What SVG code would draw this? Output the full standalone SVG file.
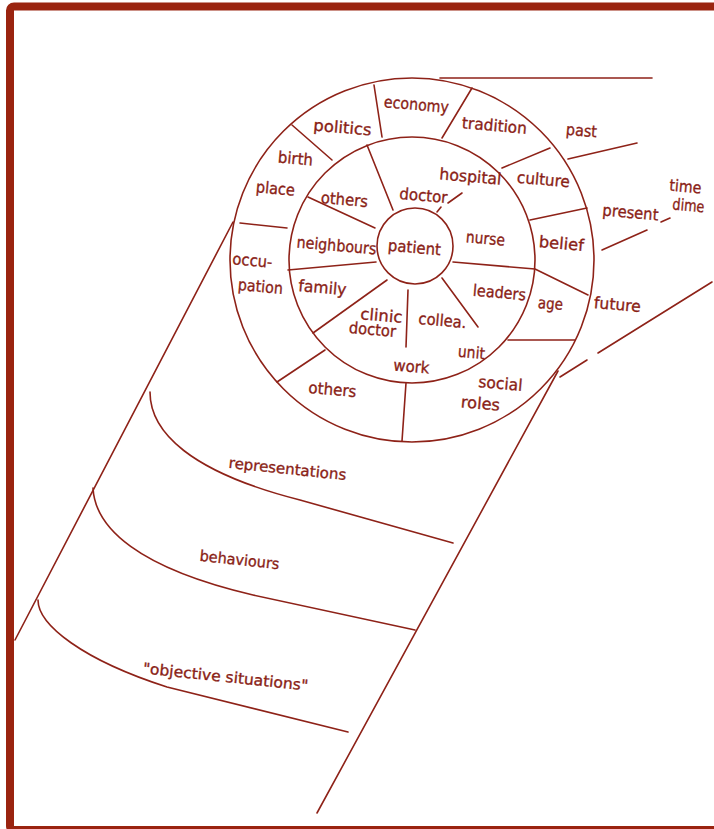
<svg xmlns="http://www.w3.org/2000/svg" width="714" height="829" viewBox="0 0 714 829">
<style>
.ln{fill:none;stroke:#8e2218;stroke-width:1.6;stroke-linecap:round;stroke-linejoin:round}
.t{font-family:"DejaVu Sans","Liberation Sans",sans-serif;font-size:16px;fill:#8a1e16;stroke:#8a1e16;stroke-width:0.35;text-anchor:middle}
.s{font-size:15px}
</style>
<rect x="0" y="0" width="714" height="829" fill="#ffffff"/>
<rect id="frame" x="10" y="6.5" width="760" height="823.5" rx="4" fill="none" stroke="#9a2410" stroke-width="8"/>

<g id="rings">
<circle class="ln" cx="412" cy="260" r="182"/>
<circle class="ln" cx="412" cy="260" r="123"/>
<circle class="ln" cx="415" cy="246" r="38"/>
</g>

<g id="connectors">
<path class="ln" d="M374,85 L382,137"/>
<path class="ln" d="M472,88 L442,138"/>
<path class="ln" d="M502,168 L550,148"/>
<path class="ln" d="M530,220 L587,208"/>
<path class="ln" d="M453,262 L535,269 L588,295"/>
<path class="ln" d="M508,340 L575,340"/>
<path class="ln" d="M406,383 L402,441"/>
<path class="ln" d="M277,382 L325,350"/>
<path class="ln" d="M240,223 L287,228"/>
<path class="ln" d="M292,125 L332,160"/>
<path class="ln" d="M367,145 L393,210"/>
<path class="ln" d="M308,197 L375,228"/>
<path class="ln" d="M288,270 L376,262"/>
<path class="ln" d="M313,333 L387,280"/>
<path class="ln" d="M408,290 L406,347"/>
<path class="ln" d="M442,278 L478,327"/>
<path class="ln" d="M437,212 L441,207"/>
<path class="ln" d="M448,203 L462,193"/>
<path class="ln" d="M440,78 L652,78"/>
<path class="ln" d="M568,159 L637,143"/>
<path class="ln" d="M602,250 L647,230"/>
<path class="ln" d="M661,222 L670,218"/>
<path class="ln" d="M560,377 L587,360"/>
<path class="ln" d="M598,353 L712,282"/>
<path class="ln" d="M233,222 L15,640"/>
<path class="ln" d="M558,371 L317,813"/>
<path class="ln" d="M150,392 C150,432 190,472 300,500 L453,543"/>
<path class="ln" d="M93,488 C95,528 138,568 253,595 L415,630"/>
<path class="ln" d="M38,600 C38,625 83,660 167,687 L348,732"/>
</g>

<g id="lbl-economy"><text class="t" x="416" y="110" textLength="65" lengthAdjust="spacingAndGlyphs" transform="rotate(5 416 110)">economy</text></g>
<g id="lbl-politics"><text class="t" x="342" y="133" textLength="58" lengthAdjust="spacingAndGlyphs" transform="rotate(5 342 133)">politics</text></g>
<g id="lbl-birth"><text class="t" x="295" y="164" textLength="35" lengthAdjust="spacingAndGlyphs" transform="rotate(5 295 164)">birth</text></g>
<g id="lbl-place"><text class="t" x="275" y="194" textLength="39" lengthAdjust="spacingAndGlyphs" transform="rotate(5 275 194)">place</text></g>
<g id="lbl-others1"><text class="t" x="344" y="205" textLength="47" lengthAdjust="spacingAndGlyphs" transform="rotate(5 344 205)">others</text></g>
<g id="lbl-doctor1"><text class="t" x="423" y="201" textLength="48" lengthAdjust="spacingAndGlyphs" transform="rotate(5 423 201)">doctor</text></g>
<g id="lbl-hospital"><text class="t" x="470" y="182" textLength="62" lengthAdjust="spacingAndGlyphs" transform="rotate(5 470 182)">hospital</text></g>
<g id="lbl-tradition"><text class="t" x="494" y="131" textLength="65" lengthAdjust="spacingAndGlyphs" transform="rotate(5 494 131)">tradition</text></g>
<g id="lbl-past"><text class="t" x="581" y="136" textLength="31" lengthAdjust="spacingAndGlyphs" transform="rotate(5 581 136)">past</text></g>
<g id="lbl-culture"><text class="t" x="543" y="185" textLength="53" lengthAdjust="spacingAndGlyphs" transform="rotate(5 543 185)">culture</text></g>
<g id="lbl-present"><text class="t" x="630" y="218" textLength="56" lengthAdjust="spacingAndGlyphs" transform="rotate(5 630 218)">present</text></g>
<g id="lbl-belief"><text class="t" x="561" y="249" textLength="45" lengthAdjust="spacingAndGlyphs" transform="rotate(5 561 249)">belief</text></g>
<g id="lbl-nurse"><text class="t" x="485" y="244" textLength="39" lengthAdjust="spacingAndGlyphs" transform="rotate(5 485 244)">nurse</text></g>
<g id="lbl-patient"><text class="t" x="414" y="253" textLength="53" lengthAdjust="spacingAndGlyphs" transform="rotate(5 414 253)">patient</text></g>
<g id="lbl-neighbours"><text class="t" x="336" y="251" textLength="80" lengthAdjust="spacingAndGlyphs" transform="rotate(5 336 251)">neighbours</text></g>
<g id="lbl-occupation"><text class="t" x="252" y="266" textLength="40" lengthAdjust="spacingAndGlyphs" transform="rotate(5 252 266)">occu-</text><text class="t" x="260" y="292" textLength="45" lengthAdjust="spacingAndGlyphs" transform="rotate(5 260 292)">pation</text></g>
<g id="lbl-family"><text class="t" x="322" y="293" textLength="48" lengthAdjust="spacingAndGlyphs" transform="rotate(5 322 293)">family</text></g>
<g id="lbl-clinicdoctor"><text class="t" x="381" y="321" textLength="42" lengthAdjust="spacingAndGlyphs" transform="rotate(5 381 321)">clinic</text><text class="t" x="372" y="335" textLength="47" lengthAdjust="spacingAndGlyphs" transform="rotate(5 372 335)">doctor</text></g>
<g id="lbl-collea"><text class="t" x="442" y="326" textLength="48" lengthAdjust="spacingAndGlyphs" transform="rotate(5 442 326)">collea.</text></g>
<g id="lbl-leaders"><text class="t" x="499" y="298" textLength="53" lengthAdjust="spacingAndGlyphs" transform="rotate(5 499 298)">leaders</text></g>
<g id="lbl-age"><text class="t" x="550" y="309" textLength="25" lengthAdjust="spacingAndGlyphs" transform="rotate(5 550 309)">age</text></g>
<g id="lbl-future"><text class="t" x="617" y="310" textLength="47" lengthAdjust="spacingAndGlyphs" transform="rotate(5 617 310)">future</text></g>
<g id="lbl-unit"><text class="t" x="471" y="358" textLength="27" lengthAdjust="spacingAndGlyphs" transform="rotate(5 471 358)">unit</text></g>
<g id="lbl-work"><text class="t" x="411" y="372" textLength="36" lengthAdjust="spacingAndGlyphs" transform="rotate(5 411 372)">work</text></g>
<g id="lbl-others2"><text class="t" x="332" y="395" textLength="48" lengthAdjust="spacingAndGlyphs" transform="rotate(5 332 395)">others</text></g>
<g id="lbl-socialroles"><text class="t" x="500" y="389" textLength="44" lengthAdjust="spacingAndGlyphs" transform="rotate(5 500 389)">social</text><text class="t" x="480" y="409" textLength="39" lengthAdjust="spacingAndGlyphs" transform="rotate(5 480 409)">roles</text></g>
<g id="lbl-time"><text class="t" x="685" y="192" textLength="32" lengthAdjust="spacingAndGlyphs" transform="rotate(5 685 192)">time</text><text class="t" x="688" y="211" textLength="32" lengthAdjust="spacingAndGlyphs" transform="rotate(5 688 211)">dime</text></g>
<g id="lbl-representations"><text class="t s" x="287" y="474" textLength="118" lengthAdjust="spacingAndGlyphs" transform="rotate(6 287 474)">representations</text></g>
<g id="lbl-behaviours"><text class="t s" x="239" y="565" textLength="80" lengthAdjust="spacingAndGlyphs" transform="rotate(6 239 565)">behaviours</text></g>
<g id="lbl-objective"><text class="t s" x="225" y="682" textLength="166" lengthAdjust="spacingAndGlyphs" transform="rotate(6 225 682)">"objective situations"</text></g>
</svg>
